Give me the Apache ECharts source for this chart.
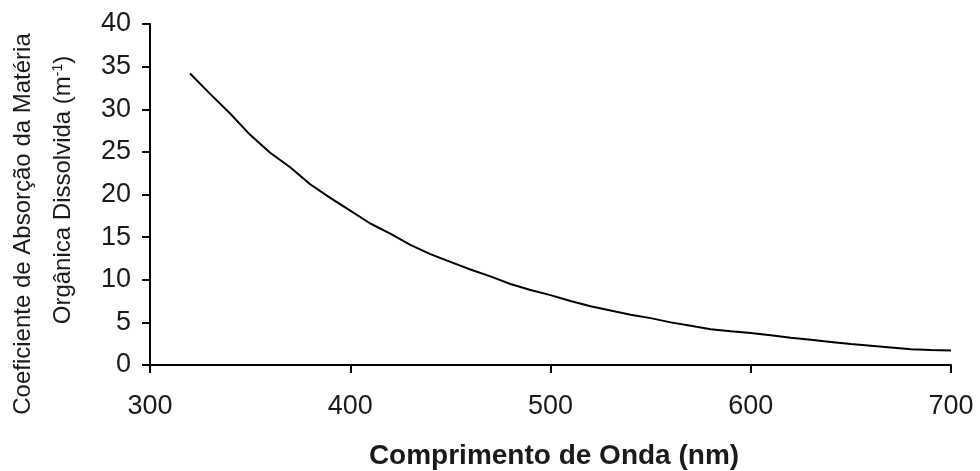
<!DOCTYPE html>
<html>
<head>
<meta charset="utf-8">
<title>Coeficiente de absorção da MOD</title>
<script src="https://cdn.jsdelivr.net/npm/echarts@6/dist/echarts.min.js"></script>
<style>
  html, body { margin: 0; padding: 0; background: #fff; }
  #chart { width: 980px; height: 471px; }
</style>
</head>
<body>
<div id="chart"></div>
<script>
// Wavelength (nm) and absorption coefficient of dissolved organic matter (m^-1)
var wavelengths = [320, 330, 340, 350, 360, 370, 380, 390, 400, 410,
                   420, 430, 440, 450, 460, 470, 480, 490, 500, 510,
                   520, 530, 540, 550, 560, 570, 580, 590, 600, 610,
                   620, 630, 640, 650, 660, 670, 680, 690, 700];
var absorption = [34.2, 31.8, 29.5, 27.0, 24.9, 23.2, 21.2, 19.6, 18.1, 16.6,
                  15.4, 14.1, 13.0, 12.1, 11.2, 10.4, 9.5, 8.8, 8.2, 7.5,
                  6.9, 6.4, 5.9, 5.5, 5.0, 4.6, 4.2, 3.95, 3.75, 3.5,
                  3.2, 2.95, 2.7, 2.45, 2.25, 2.05, 1.85, 1.75, 1.7];
var xTicks = [300, 400, 500, 600, 700];
var yTicks = [0, 5, 10, 15, 20, 25, 30, 35, 40];

var yTitleLine1 = 'Coeficiente de Absorção da Matéria';
var yTitleLine2 = 'Orgânica Dissolvida (m{sup|-1})';
var xTitle = 'Comprimento de Onda (nm)';

var FONT = '"Liberation Sans", Arial, Helvetica, sans-serif';

var points = wavelengths.map(function (w, i) { return [w, absorption[i]]; });

var chart = echarts.init(document.getElementById('chart'), null, { renderer: 'canvas' });

chart.setOption({
  backgroundColor: '#ffffff',
  animation: false,
  grid: { left: 150, right: 29, top: 24, bottom: 106, containLabel: false },
  xAxis: {
    type: 'value',
    min: xTicks[0],
    max: xTicks[xTicks.length - 1],
    interval: 100,
    axisLine: { show: true, onZero: false, lineStyle: { color: '#000', width: 2 } },
    axisTick: { show: true, inside: false, length: 8, lineStyle: { color: '#000', width: 2 } },
    splitLine: { show: false },
    axisLabel: {
      color: '#1a1a1a', fontFamily: FONT, fontSize: 27, margin: 28,
      showMinLabel: true, showMaxLabel: true
    }
  },
  yAxis: {
    type: 'value',
    min: yTicks[0],
    max: yTicks[yTicks.length - 1],
    interval: 5,
    axisLine: { show: true, onZero: false, lineStyle: { color: '#000', width: 2 } },
    axisTick: { show: true, inside: false, length: 8, lineStyle: { color: '#000', width: 2 } },
    splitLine: { show: false },
    axisLabel: {
      color: '#1a1a1a', fontFamily: FONT, fontSize: 27, margin: 19,
      padding: [5, 0, 0, 0],
      showMinLabel: true, showMaxLabel: true
    }
  },
  series: [{
    type: 'line',
    data: points,
    showSymbol: false,
    smooth: false,
    lineStyle: { color: '#000', width: 2 }
  }],
  graphic: [
    {
      type: 'text',
      x: 23, y: 224,
      rotation: Math.PI / 2,
      style: {
        text: yTitleLine1,
        font: '24px ' + FONT,
        fill: '#1a1a1a',
        align: 'center',
        verticalAlign: 'middle'
      }
    },
    {
      type: 'text',
      x: 63, y: 190,
      rotation: Math.PI / 2,
      style: {
        text: yTitleLine2,
        font: '24px ' + FONT,
        fill: '#1a1a1a',
        align: 'center',
        verticalAlign: 'middle',
        rich: {
          sup: { fontSize: 14, fontFamily: FONT, verticalAlign: 'top', fill: '#1a1a1a' }
        }
      }
    },
    {
      type: 'text',
      x: 554, y: 456,
      style: {
        text: xTitle,
        font: 'bold 28px ' + FONT,
        fill: '#1a1a1a',
        align: 'center',
        verticalAlign: 'middle'
      }
    }
  ]
});
</script>
</body>
</html>
